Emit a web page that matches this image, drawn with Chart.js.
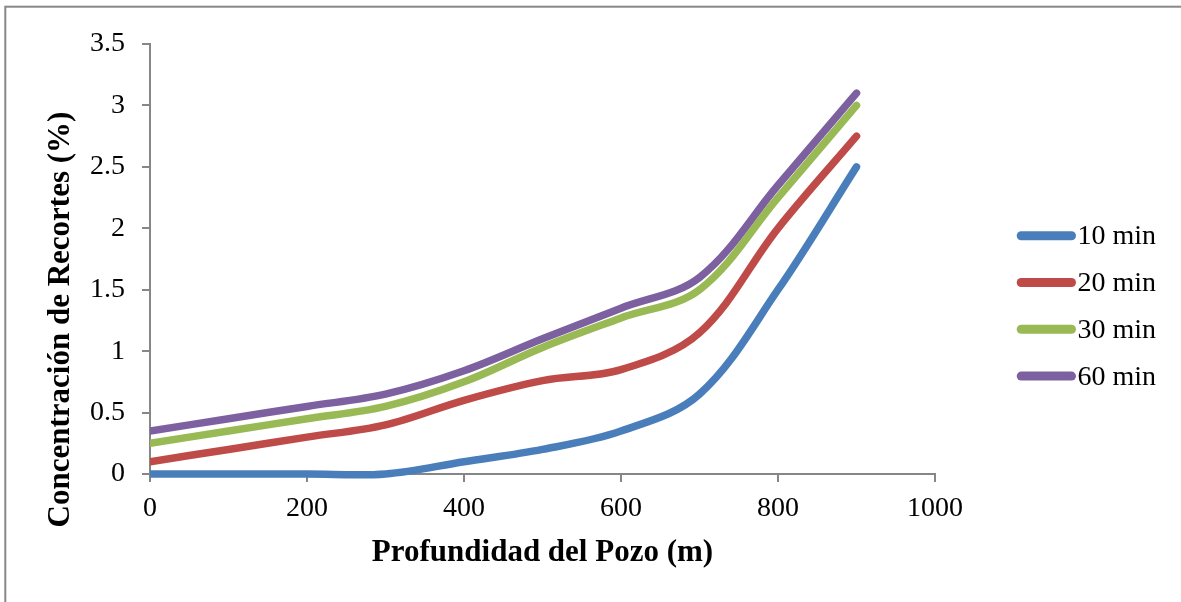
<!DOCTYPE html>
<html><head><meta charset="utf-8">
<script src="https://cdn.jsdelivr.net/npm/chart.js@4.4.0/dist/chart.umd.min.js"></script>
<style>html,body{margin:0;padding:0;background:#fff;overflow:hidden}canvas{display:block}</style>
</head><body>
<canvas id="c" width="1181" height="602"></canvas>
<script>
// ---- data ----
const depths = [0, 100, 200, 300, 400, 500, 600, 700, 800, 900];
const conc10 = [0, 0, 0, 0, 0.1, 0.2, 0.35, 0.65, 1.5, 2.5];
const conc20 = [0.1, 0.2, 0.3, 0.4, 0.6, 0.76, 0.85, 1.15, 2.0, 2.75];
const conc30 = [0.25, 0.35, 0.45, 0.55, 0.75, 1.03, 1.27, 1.5, 2.25, 3.0];
const conc60 = [0.35, 0.45, 0.55, 0.65, 0.84, 1.1, 1.35, 1.6, 2.35, 3.1];
const seriesLabels = ['10 min', '20 min', '30 min', '60 min'];
const xTickValues = [0, 200, 400, 600, 800, 1000];
const yTickValues = [0, 0.5, 1, 1.5, 2, 2.5, 3, 3.5];
const xTitle = 'Profundidad del Pozo (m)';
const yTitle = 'Concentración de Recortes (%)';

const colors = ['#4A7EBB', '#BE4B48', '#98B954', '#7D60A0'];
const seriesValues = [conc10, conc20, conc30, conc60];

const FONT = "'Liberation Serif', 'Times New Roman', serif";
const AXIS = '#868686';

const datasets = seriesValues.map((vals, i) => ({
  label: seriesLabels[i],
  data: depths.map((d, j) => ({x: d, y: vals[j]})),
  borderColor: colors[i],
  backgroundColor: colors[i],
  borderWidth: 7.5,
  borderCapStyle: 'round',
  borderJoinStyle: 'round',
  capBezierPoints: false,
  pointRadius: 0,
  pointHoverRadius: 0,
  tension: 0.35,
  clip: {left: 0, right: 10, top: 10, bottom: 10}
}));

const decor = {
  id: 'decor',
  beforeDraw(chart) {
    const ctx = chart.ctx;
    ctx.save();
    ctx.strokeStyle = '#888888';
    ctx.lineWidth = 2;
    ctx.strokeRect(5.3, 6.7, 2000, 2000);
    ctx.restore();
  },
  afterDraw(chart) {
    const ctx = chart.ctx;
    ctx.save();
    // y axis title
    ctx.font = "bold 31px " + FONT;
    ctx.fillStyle = '#000';
    ctx.textAlign = 'center';
    ctx.textBaseline = 'alphabetic';
    ctx.translate(68.5, 319.5);
    ctx.rotate(-Math.PI / 2);
    ctx.fillText(yTitle, 0, 0);
    ctx.restore();
    // legend
    ctx.save();
    chart.data.datasets.forEach((ds, i) => {
      const y = 235.7 + i * 46.8;
      ctx.strokeStyle = ds.borderColor;
      ctx.lineWidth = 9;
      ctx.lineCap = 'round';
      ctx.beginPath();
      ctx.moveTo(1021.2, y);
      ctx.lineTo(1071.5, y);
      ctx.stroke();
      ctx.font = "28px " + FONT;
      ctx.fillStyle = '#000';
      ctx.textAlign = 'left';
      ctx.textBaseline = 'alphabetic';
      ctx.fillText(ds.label, 1077.5, y + 8.6);
    });
    ctx.restore();
  }
};

new Chart(document.getElementById('c'), {
  type: 'line',
  data: {datasets},
  plugins: [decor],
  options: {
    responsive: false,
    animation: false,
    devicePixelRatio: 1,
    layout: {padding: {left: 0, right: 246, top: 44, bottom: 0}},
    plugins: {legend: {display: false}, tooltip: {enabled: false}},
    scales: {
      x: {
        type: 'linear',
        min: 0, max: 1000,
        afterFit(s) { s.height = 128; },
        afterBuildTicks(s) { s.ticks = xTickValues.map(v => ({value: v})); },
        grid: {drawOnChartArea: false, drawTicks: true, tickLength: 8, color: AXIS, lineWidth: 2},
        border: {display: true, color: AXIS, width: 2},
        ticks: {padding: 10, color: '#000', font: {family: FONT, size: 28}, maxRotation: 0, callback: v => String(v)},
        title: {display: true, text: xTitle, color: '#000', font: {family: FONT, size: 31, weight: 'bold'}, padding: {top: 0, bottom: 30.6}}
      },
      y: {
        type: 'linear',
        min: 0, max: 3.5,
        afterFit(s) { s.width = 150; },
        afterBuildTicks(s) { s.ticks = yTickValues.map(v => ({value: v})); },
        grid: {drawOnChartArea: false, drawTicks: true, tickLength: 8, color: AXIS, lineWidth: 2},
        border: {display: true, color: AXIS, width: 2},
        ticks: {padding: 17, color: '#000', font: {family: FONT, size: 28}, callback: v => String(v)}
      }
    }
  }
});
</script>
</body></html>
